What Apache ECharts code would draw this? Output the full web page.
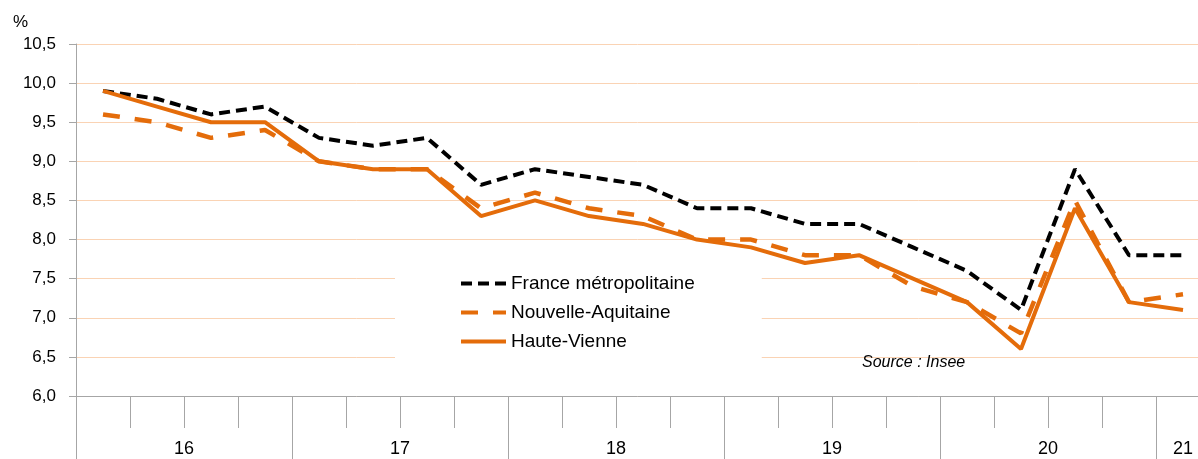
<!DOCTYPE html>
<html>
<head>
<meta charset="utf-8">
<title>Taux de chômage</title>
<script src="https://cdn.jsdelivr.net/npm/echarts@6/dist/echarts.min.js"></script>
<style>
    html, body { margin: 0; padding: 0; background: #fff; }
    #chart { width: 1198px; height: 459px; }
</style>
</head>
<body>
<div id="chart"></div>
<script>
    // trimestres T1 2016 -> T1 2021
    const quarters = [
        '2016T1', '2016T2', '2016T3', '2016T4',
        '2017T1', '2017T2', '2017T3', '2017T4',
        '2018T1', '2018T2', '2018T3', '2018T4',
        '2019T1', '2019T2', '2019T3', '2019T4',
        '2020T1', '2020T2', '2020T3', '2020T4',
        '2021T1'
    ];
    const years = ['16', '17', '18', '19', '20', '21'];

    const france = [9.9, 9.8, 9.6, 9.7, 9.3, 9.2, 9.3, 8.7, 8.9, 8.8, 8.7, 8.4, 8.4, 8.2, 8.2, 7.9, 7.6, 7.1, 8.9, 7.8, 7.8];
    const nouvelleAquitaine = [9.6, 9.5, 9.3, 9.4, 9.0, 8.9, 8.9, 8.4, 8.6, 8.4, 8.3, 8.0, 8.0, 7.8, 7.8, 7.4, 7.2, 6.8, 8.5, 7.2, 7.3];
    const hauteVienne = [9.9, 9.7, 9.5, 9.5, 9.0, 8.9, 8.9, 8.3, 8.5, 8.3, 8.2, 8.0, 7.9, 7.7, 7.8, 7.5, 7.2, 6.6, 8.4, 7.2, 7.1];

    const orange = '#E46C0A';
    const axisGray = '#A6A6A6';
    const font = 'Liberation Sans, Arial, sans-serif';

    const chart = echarts.init(document.getElementById('chart'));

    chart.setOption({
        animation: false,
        textStyle: { fontFamily: font },
        title: [
            {
                text: '%',
                left: 8, top: 9,
                textStyle: { fontSize: 17, fontWeight: 'normal', color: '#000', fontFamily: font }
            },
            {
                text: 'Source : Insee',
                left: 857, top: 350,
                textStyle: { fontSize: 16, fontWeight: 'normal', fontStyle: 'italic', color: '#000', fontFamily: font }
            }
        ],
        legend: {
            orient: 'vertical',
            left: 395, top: 264,
            padding: [10, 67, 18, 64],
            backgroundColor: '#fff',
            itemWidth: 45,
            itemHeight: 14,
            itemGap: 10,
            itemTextGap: 2,
            itemStyle: { opacity: 0 },
            lineStyle: { width: 4 },
            textStyle: { fontSize: 19, color: '#000', fontFamily: font },
            data: ['France métropolitaine', 'Nouvelle-Aquitaine', 'Haute-Vienne']
        },
        grid: { left: 76, top: 44, width: 1134, height: 352, containLabel: false, outerBoundsMode: 'none' },
        xAxis: [
            {
                type: 'category',
                data: quarters,
                boundaryGap: true,
                axisLine: { lineStyle: { color: axisGray, width: 1 } },
                axisTick: { show: true, interval: 0, length: 32, lineStyle: { color: axisGray } },
                axisLabel: { show: false }
            },
            {
                type: 'category',
                data: quarters,
                position: 'bottom',
                boundaryGap: true,
                axisLine: { show: false },
                axisTick: {
                    show: true,
                    length: 63,
                    interval: function (i) { return i % 4 === 0; },
                    lineStyle: { color: axisGray }
                },
                axisLabel: {
                    margin: 44,
                    interval: function (i) { return i % 4 === 1 || i === 20; },
                    formatter: function (v, i) {
                        const y = years[Math.floor(i / 4)];
                        return i === 20 ? '{c|' + y + '}' : '{r|' + y + '}';
                    },
                    rich: {
                        r: { fontSize: 18, color: '#000', fontFamily: font, padding: [0, 0, 0, 54] },
                        c: { fontSize: 18, color: '#000', fontFamily: font }
                    }
                }
            }
        ],
        yAxis: {
            type: 'value',
            min: 6,
            max: 10.5,
            interval: 0.5,
            axisLine: { show: true, lineStyle: { color: axisGray } },
            axisTick: { show: true, length: 7, lineStyle: { color: axisGray } },
            axisLabel: {
                margin: 20,
                fontSize: 17,
                color: '#000',
                fontFamily: font,
                formatter: function (v) { return v.toFixed(1).replace('.', ','); }
            },
            splitLine: { lineStyle: { color: '#FAD3B4', width: 1 } }
        },
        series: [
            {
                name: 'France métropolitaine',
                type: 'line',
                data: france,
                symbol: 'none',
                color: '#000',
                lineStyle: { color: '#000', width: 4, type: [11, 6] }
            },
            {
                name: 'Nouvelle-Aquitaine',
                type: 'line',
                data: nouvelleAquitaine,
                symbol: 'none',
                color: orange,
                lineStyle: { color: orange, width: 4.5, type: [17, 15] }
            },
            {
                name: 'Haute-Vienne',
                type: 'line',
                data: hauteVienne,
                symbol: 'none',
                color: orange,
                lineStyle: { color: orange, width: 4 }
            }
        ]
    });
</script>
</body>
</html>
